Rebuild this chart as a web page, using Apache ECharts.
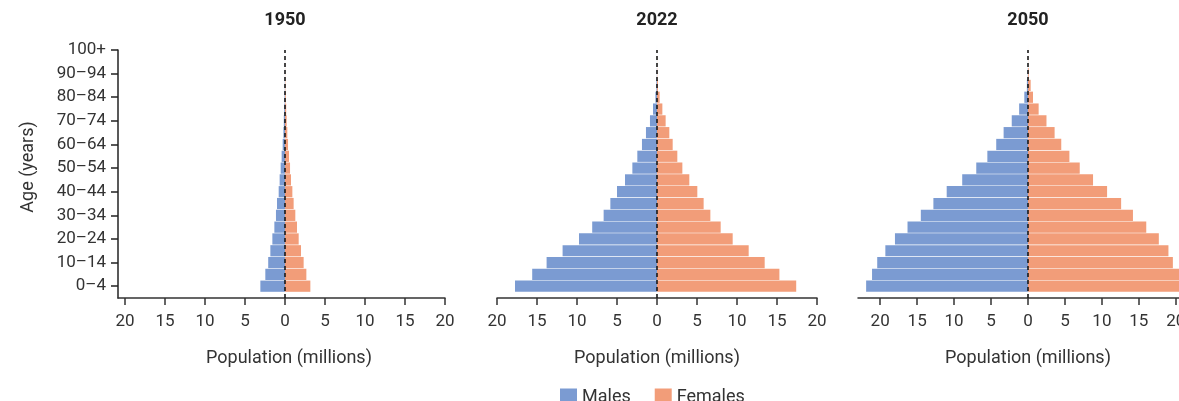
<!DOCTYPE html>
<html><head><meta charset="utf-8">
<script src="https://cdn.jsdelivr.net/npm/echarts@6/dist/echarts.min.js"></script>
<style>html,body{margin:0;padding:0;background:#fff}#c{width:1179px;height:401px}</style>
</head><body><div id="c"></div>
<script>
// ---- data ----
const ageGroups = ['0–4','5–9','10–14','15–19','20–24','25–29','30–34','35–39','40–44','45–49','50–54','55–59','60–64','65–69','70–74','75–79','80–84','85–89','90–94','95–99','100+'];
const years = ['1950','2022','2050'];
const males1950   = [3.08,2.46,2.10,1.83,1.58,1.33,1.13,1.00,0.79,0.67,0.54,0.42,0.29,0.20,0.15,0.10,0.06,0.03,0.01,0.003,0.001];
const females1950 = [3.17,2.67,2.33,2.00,1.71,1.50,1.29,1.08,0.92,0.75,0.63,0.50,0.38,0.29,0.21,0.15,0.10,0.05,0.02,0.005,0.001];
const males2022   = [17.75,15.6,13.8,11.8,9.75,8.1,6.67,5.83,5.0,4.0,3.08,2.46,1.88,1.38,0.88,0.5,0.2,0.08,0.02,0.005,0.001];
const females2022 = [17.4,15.3,13.46,11.46,9.46,7.96,6.67,5.83,5.04,4.04,3.17,2.54,1.96,1.54,1.08,0.67,0.33,0.12,0.03,0.01,0.001];
const males2050   = [21.9,21.1,20.4,19.3,18.0,16.3,14.5,12.8,11.0,8.9,7.0,5.5,4.3,3.3,2.2,1.2,0.5,0.15,0.03,0.005,0.001];
const females2050 = [21.3,20.8,19.6,19.0,17.7,16.0,14.2,12.6,10.7,8.8,7.0,5.6,4.5,3.6,2.5,1.44,0.68,0.36,0.1,0.02,0.003];
const xTicks = [-20,-15,-10,-5,0,5,10,15,20];
const seriesNames = ['Males','Females'];
const axisTitle = 'Population (millions)';
const yTitle = 'Age (years)';

// ---- chart ----
const chart = echarts.init(document.getElementById('c'));
const BLUE = '#7b9bd2', ORANGE = '#f29d79', INK = '#333', FONT = 'Roboto, sans-serif';
const males = [males1950, males2022, males2050];
const females = [females1950, females2022, females2050];
const cats = [''].concat(ageGroups);
const grids = [
  {left:118, top:50, width:327, height:248, outerBoundsMode:'none', containLabel:false},
  {left:497, top:50, width:320, height:248, outerBoundsMode:'none', containLabel:false},
  {left:858, top:50, width:340, height:248, outerBoundsMode:'none', containLabel:false}
];
const xRanges = [[-20.875,20],[-20,20],[-23,23]];
const centers = [285, 657, 1028];
const oddOnly = (idx) => idx % 2 === 1;

const xAxis = [], yAxis = [], series = [], graphic = [];
for (let i = 0; i < 3; i++) {
  xAxis.push({
    gridIndex:i, type:'value', min:xRanges[i][0], max:xRanges[i][1],
    axisLine:{show:true, onZero:false, lineStyle:{color:INK, width:1.5}},
    axisTick:{show:true, length:7, customValues:xTicks, lineStyle:{color:INK, width:1.5}},
    axisLabel:{customValues:xTicks, formatter:v => String(Math.abs(v)), fontSize:17, color:INK, margin:15, fontFamily:FONT},
    splitLine:{show:false},
    name:axisTitle, nameLocation:'middle', nameGap:51,
    nameTextStyle:{fontSize:18, color:INK, fontFamily:FONT, padding: i===0 ? [0,0,0,15] : 0}
  });
  yAxis.push({
    gridIndex:i, type:'category', data:cats, boundaryGap:false,
    axisLine:{show:i===0, onZero:false, lineStyle:{color:'#222', width:1.5}},
    axisTick:{show:i===0, length:7, interval:oddOnly, lineStyle:{color:'#222', width:1.5}},
    axisLabel:{show:i===0, interval:oddOnly, fontSize:17, color:INK, margin:12, fontFamily:FONT},
    splitLine:{show:false}
  });
  series.push({
    type:'bar', name:seriesNames[0], xAxisIndex:i, yAxisIndex:i,
    data:[null].concat(males[i].map(v => -v)),
    barCategoryGap:'5%', barGap:'-100%', itemStyle:{color:BLUE}, silent:true
  });
  series.push({
    type:'bar', name:seriesNames[1], xAxisIndex:i, yAxisIndex:i,
    data:[null].concat(females[i]),
    barCategoryGap:'5%', barGap:'-100%', itemStyle:{color:ORANGE}, silent:true,
    markLine:{silent:true, symbol:'none', label:{show:false}, z:10,
      lineStyle:{color:'#1a1a1a', type:[4,3], width:1.6}, data:[{xAxis:0}]}
  });
  graphic.push({type:'text', x:centers[i], y:20,
    style:{text:years[i], font:'bold 18px Roboto', fill:'#222', align:'center', verticalAlign:'middle'}});
}
graphic.push({type:'text', x:28, y:167, rotation:Math.PI/2,
  style:{text:yTitle, font:'18px Roboto', fill:INK, align:'center', verticalAlign:'middle'}});

chart.setOption({
  animation:false,
  grid:grids, xAxis, yAxis, series, graphic,
  legend:{data:seriesNames, left:560, top:388, padding:0, itemWidth:17, itemHeight:17, itemGap:24, icon:'rect',
    textStyle:{fontSize:18, color:INK, fontFamily:FONT}}
});
</script></body></html>
